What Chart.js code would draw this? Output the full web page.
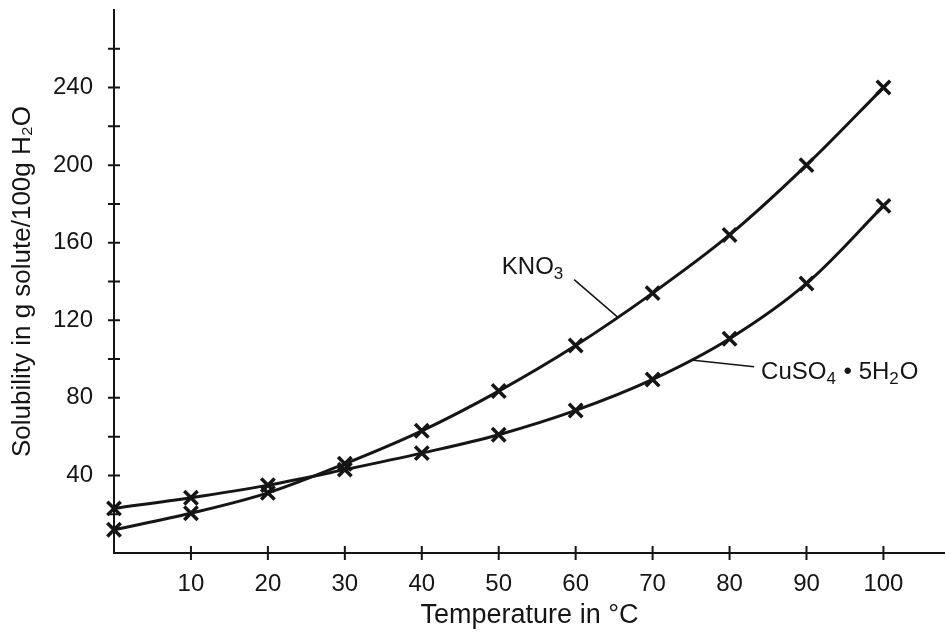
<!DOCTYPE html>
<html>
<head>
<meta charset="utf-8">
<title>Solubility curves</title>
<script src="https://cdn.jsdelivr.net/npm/chart.js@4/dist/chart.umd.min.js"></script>
<style>
  body { margin: 0; background: #fff; }
  #wrap { width: 945px; height: 632px; }
</style>
</head>
<body>
<div id="wrap"><canvas id="myChart"></canvas></div>
<script>
// values
var temps = [0, 10, 20, 30, 40, 50, 60, 70, 80, 90, 100];
var kno3 = [12, 20.5, 31, 46, 63, 83.5, 107, 134, 164, 200, 240];
var cuso4 = [23, 28.5, 35, 43, 51.5, 61, 73.5, 89.5, 110.5, 139, 179];
var xTickLabels = [10, 20, 30, 40, 50, 60, 70, 80, 90, 100];
var yTickLabels = [40, 80, 120, 160, 200, 240];

var ink = '#151515';
var fontFamily = '"Liberation Sans", Arial, Helvetica, sans-serif';

function points(ys) {
    var out = [];
    for (let i = 0; i < temps.length; i++) {
        out.push({ x: temps[i], y: ys[i] });
    }
    return out;
}

// no extra room for the end labels, the axes run to the edges
function noPadding(scale) {
    scale.paddingTop = 0;
    scale.paddingBottom = 0;
    scale.paddingLeft = 0;
    scale.paddingRight = 0;
}

// small marks crossing both axes
var crossTicks = {
    id: 'crossTicks',
    afterDraw: function (chart) {
        var ctx = chart.ctx;
        var x = chart.scales.x, y = chart.scales.y;
        var area = chart.chartArea;
        ctx.save();
        ctx.strokeStyle = ink;
        ctx.lineWidth = 2;
        ctx.beginPath();
        y.ticks.forEach(function (t) {
            if (t.value > 0 && t.value < 280 && t.value % 20 === 0) {
                var py = y.getPixelForValue(t.value);
                ctx.moveTo(area.left - 6, py);
                ctx.lineTo(area.left + 6, py);
            }
        });
        xTickLabels.forEach(function (v) {
            var px = x.getPixelForValue(v);
            ctx.moveTo(px, area.bottom - 7);
            ctx.lineTo(px, area.bottom + 7);
        });
        ctx.stroke();
        ctx.restore();
    }
};

// curve labels with subscripts and leader lines
var curveLabels = {
    id: 'curveLabels',
    afterDraw: function (chart) {
        var ctx = chart.ctx;
        var x = chart.scales.x, y = chart.scales.y;
        var labels = [
            { parts: [['KNO', 0], ['3', 1]], at: [50.4, 144], from: [59.8, 141], to: [65.5, 121.5] },
            { parts: [['CuSO', 0], ['4', 1], [' \u2022 5H', 0], ['2', 1], ['O', 0]], at: [84.1, 89.7], from: [83.2, 96], to: [75, 99.5] }
        ];
        ctx.save();
        ctx.fillStyle = ink;
        ctx.strokeStyle = ink;
        ctx.lineWidth = 1.5;
        ctx.textBaseline = 'alphabetic';
        labels.forEach(function (lb) {
            ctx.beginPath();
            ctx.moveTo(x.getPixelForValue(lb.from[0]), y.getPixelForValue(lb.from[1]));
            ctx.lineTo(x.getPixelForValue(lb.to[0]), y.getPixelForValue(lb.to[1]));
            ctx.stroke();
            var px = x.getPixelForValue(lb.at[0]);
            var py = y.getPixelForValue(lb.at[1]);
            lb.parts.forEach(function (p) {
                ctx.font = (p[1] ? '17px ' : '24px ') + fontFamily;
                ctx.fillText(p[0], px, py + (p[1] ? 5 : 0));
                px += ctx.measureText(p[0]).width + (p[1] ? 1 : 0);
            });
        });
        ctx.restore();
    }
};

var ctx = document.getElementById('myChart').getContext('2d');
var myChart = new Chart(ctx, {
    type: 'line',
    data: {
        datasets: [{
            label: 'KNO3',
            data: points(kno3)
        }, {
            label: 'CuSO4 \u2022 5H2O',
            data: points(cuso4)
        }]
    },
    options: {
        responsive: true,
        maintainAspectRatio: false,
        animation: false,
        layout: { autoPadding: false, padding: { top: 10, left: 0, right: 0, bottom: 0 } },
        elements: {
            line: { borderColor: ink, borderWidth: 3, tension: 0.35, fill: false },
            point: { pointStyle: 'crossRot', radius: 9.5, borderWidth: 3.5, borderColor: ink, backgroundColor: ink }
        },
        datasets: { line: { clip: false } },
        plugins: {
            legend: { display: false },
            tooltip: { enabled: false }
        },
        scales: {
            x: {
                type: 'linear',
                min: 0,
                max: 108,
                grid: { display: false, drawTicks: false },
                border: { display: true, width: 2, color: ink },
                ticks: {
                    stepSize: 10,
                    includeBounds: false,
                    padding: 17,
                    color: ink,
                    font: { family: fontFamily, size: 24 },
                    callback: function (v) { return xTickLabels.indexOf(v) >= 0 ? v : ''; }
                },
                title: {
                    display: true,
                    text: 'Temperature in \u00b0C',
                    color: ink,
                    font: { family: fontFamily, size: 27 },
                    padding: { top: 0, bottom: 0 }
                },
                afterFit: function (scale) { scale.height = 79; noPadding(scale); }
            },
            y: {
                min: 0,
                max: 280,
                grid: { display: false, drawTicks: false },
                border: { display: true, width: 2, color: ink },
                ticks: {
                    stepSize: 20,
                    padding: 21,
                    color: ink,
                    font: { family: fontFamily, size: 24 },
                    callback: function (v) { return yTickLabels.indexOf(v) >= 0 ? v : ''; }
                },
                title: {
                    display: true,
                    text: 'Solubility in g solute/100g H\u2082O',
                    color: ink,
                    font: { family: fontFamily, size: 26 },
                    padding: { top: 7, bottom: 0 }
                },
                afterFit: function (scale) { scale.width = 114; noPadding(scale); }
            }
        }
    },
    plugins: [crossTicks, curveLabels]
});
</script>
</body>
</html>
